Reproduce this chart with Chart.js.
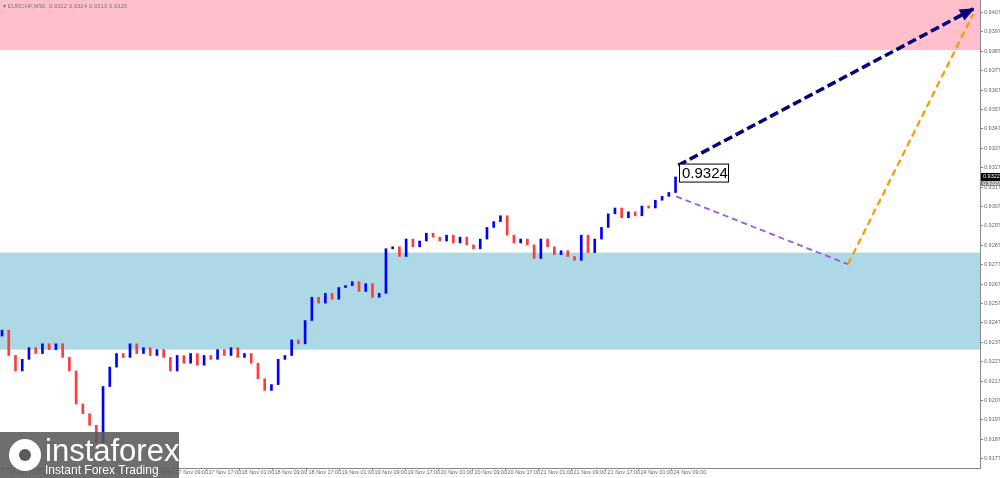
<!DOCTYPE html><html><head><meta charset="utf-8">
<script src="https://cdn.jsdelivr.net/npm/chart.js@4.4.0/dist/chart.umd.min.js"></script>
<style>html,body{margin:0;padding:0;background:#fff}#w{width:1000px;height:478px}</style></head>
<body><div id="w"><canvas id="c"></canvas></div>
<script>
const closes=[.9243,.9230,.9222,.9228,.9234,.9231,.9236,.9233,.9236,.9229,.9222,.9205,.9200,.9194,.9185,.9214,.9224,.9231,.9229,.9236,.9231,.9234,.9230,.9233,.9229,.9222,.9230,.9226,.9231,.9225,.9230,.9228,.9233,.9230,.9234,.9229,.9231,.9226,.9218,.9212,.9215,.9228,.9230,.9238,.9236,.9248,.9260,.9257,.9262,.9259,.9265,.9266,.9268,.9263,.9267,.9260,.9262,.9285,.9286,.9281,.9290,.9286,.9289,.9293,.9291,.9289,.9292,.9288,.9291,.9287,.9285,.9290,.9296,.9299,.9302,.9292,.9288,.9290,.9287,.9280,.9290,.9286,.9282,.9284,.9281,.9279,.9292,.9283,.9290,.9296,.9303,.9306,.9301,.9304,.9302,.9307,.9306,.9310,.9312,.9314,.9322];
const firstOpen=.9240;
const timeLabels=["13 Nov 2025","14 Nov 01:00","14 Nov 09:00","14 Nov 17:00","17 Nov 01:00","17 Nov 09:00","17 Nov 17:00","18 Nov 01:00","18 Nov 09:00","18 Nov 17:00","19 Nov 01:00","19 Nov 09:00","19 Nov 17:00","20 Nov 01:00","20 Nov 09:00","20 Nov 17:00","21 Nov 01:00","21 Nov 09:00","21 Nov 17:00","24 Nov 01:00","24 Nov 09:00"];
const priceTicks=[0.9177,0.9187,0.9197,0.9207,0.9217,0.9227,0.9237,0.9247,0.9257,0.9267,0.9277,0.9287,0.9297,0.9307,0.9317,0.9327,0.9337,0.9347,0.9357,0.9367,0.9377,0.9387,0.9397,0.9407];
const resistZone=[0.93874,0.9420];
const supportZone=[0.92830,0.92330];
const navyArrow=[[100.4,0.9328],[144.4,0.9409]];
const purpleLine=[[100.1,0.9312],[125.6,0.9277]];
const orangeLine=[[125.6,0.9277],[144.2,0.9406]];
const priceLabel=0.9324, lastPrice=0.9322;

const up=[],dn=[];
closes.forEach((c,i)=>{const o=i?closes[i-1]:firstOpen;(c>=o?up:dn).push({x:i,y:[o,c]});});
const pts=a=>a.map(p=>({x:p[0],y:p[1]}));
const step=33.3/6.75, t0=(5-5*33.3)/6.75+ (171/6.75) - (5/6.75);
const plug={id:'p',
beforeDatasetsDraw(ch){const {ctx,chartArea:a,scales:{y}}=ch;ctx.save();
 ctx.fillStyle='#ffc0cb';let y1=y.getPixelForValue(resistZone[1]),y2=y.getPixelForValue(resistZone[0]);ctx.fillRect(a.left,Math.max(a.top,y1),a.width,y2-Math.max(a.top,y1));
 ctx.fillStyle='#add8e6';y1=y.getPixelForValue(supportZone[0]);y2=y.getPixelForValue(supportZone[1]);ctx.fillRect(a.left,y1,a.width,y2-y1);
 ctx.fillStyle='#777';ctx.font='6px Arial';ctx.textBaseline='middle';ctx.fillText('▾ EURCHF,M30  0.9322 0.9324 0.9313 0.9320',3,6);ctx.restore();},
afterDraw(ch){const {ctx,chartArea:a,scales:{x,y}}=ch;ctx.save();
 ctx.font='5.5px Arial';ctx.fillStyle='#666';ctx.strokeStyle='#888';ctx.lineWidth=1;ctx.textBaseline='middle';
 priceTicks.forEach(v=>{const p=Math.round(y.getPixelForValue(v))+0.5;ctx.beginPath();ctx.moveTo(a.right,p);ctx.lineTo(a.right+3,p);ctx.stroke();ctx.fillText(v.toFixed(4),a.right+4,p);});
 ctx.textBaseline='top';
 timeLabels.forEach((l,i)=>{const p=Math.round(x.getPixelForValue(t0+i*step))+0.5;ctx.beginPath();ctx.moveTo(p,a.bottom);ctx.lineTo(p,a.bottom+3);ctx.stroke();ctx.fillText(l,p+2,a.bottom+2);});
 const x1=x.getPixelForValue(navyArrow[0][0]),yy1=y.getPixelForValue(navyArrow[0][1]),x2=x.getPixelForValue(navyArrow[1][0]),yy2=y.getPixelForValue(navyArrow[1][1]);
 const ang=Math.atan2(yy2-yy1,x2-x1);ctx.fillStyle='#00007f';ctx.beginPath();ctx.moveTo(x2,yy2);ctx.lineTo(x2-16*Math.cos(ang-0.4),yy2-16*Math.sin(ang-0.4));ctx.lineTo(x2-16*Math.cos(ang+0.4),yy2-16*Math.sin(ang+0.4));ctx.closePath();ctx.fill();
 const py=y.getPixelForValue(priceLabel);ctx.fillStyle='#fff';ctx.strokeStyle='#000';ctx.fillRect(679.5,py-9,49,18);ctx.strokeRect(679.5,py-9,49,18);
 ctx.fillStyle='#000';ctx.font='15px Arial';ctx.textBaseline='middle';ctx.fillText('0.9324',682,py+1);
 const ly=y.getPixelForValue(lastPrice);ctx.fillStyle='#000';ctx.fillRect(981,ly-4,19,8);ctx.fillStyle='#888';ctx.fillRect(981,ly+4,19,5);
 ctx.fillStyle='#fff';ctx.font='5.5px Arial';ctx.fillText('0.9322',983,ly);ctx.fillText('0.9320',983,ly+6.5);
 ctx.fillStyle='rgba(90,90,90,0.88)';ctx.fillRect(0,432,179,46);
 ctx.fillStyle='#fff';ctx.beginPath();ctx.arc(25,455,16,0,7);ctx.fill();ctx.fillStyle='rgba(90,90,90,1)';ctx.beginPath();ctx.arc(25,455,6,0,7);ctx.fill();
 ctx.fillStyle='#fff';ctx.font='31px Arial';ctx.textBaseline='alphabetic';ctx.fillText('instaforex',45,461);
 ctx.font='12px Arial';ctx.fillText('Instant Forex Trading',45,474);ctx.restore();}};
new Chart(document.getElementById('c'),{type:'bar',
data:{datasets:[
 {data:up,backgroundColor:'#0000ff',barThickness:2,minBarLength:2,grouped:false},
 {data:dn,backgroundColor:'#ff3b3b',barThickness:2,minBarLength:2,grouped:false},
 {type:'line',data:pts(navyArrow),borderColor:'#00007f',borderWidth:3.5,borderDash:[9,4],pointRadius:0},
 {type:'line',data:pts(purpleLine),borderColor:'#9b59e0',borderWidth:1.8,borderDash:[6,4],pointRadius:0},
 {type:'line',data:pts(orangeLine),borderColor:'#ff9900',borderWidth:2.2,borderDash:[7,4],pointRadius:0}]},
options:{responsive:true,maintainAspectRatio:false,animation:false,plugins:{legend:{display:false},tooltip:{enabled:false}},
layout:{padding:0},
scales:{
 x:{type:'linear',min:-0.3,max:145.2,offset:false,grid:{display:false},border:{color:'#888'},
  afterFit(s){s.height=10;},ticks:{display:false}},
 y:{position:'right',min:0.9172,max:0.94132,grid:{display:false},border:{color:'#888'},
  afterFit(s){s.width=20;},ticks:{display:false}}}},
plugins:[plug]});
</script></body></html>
